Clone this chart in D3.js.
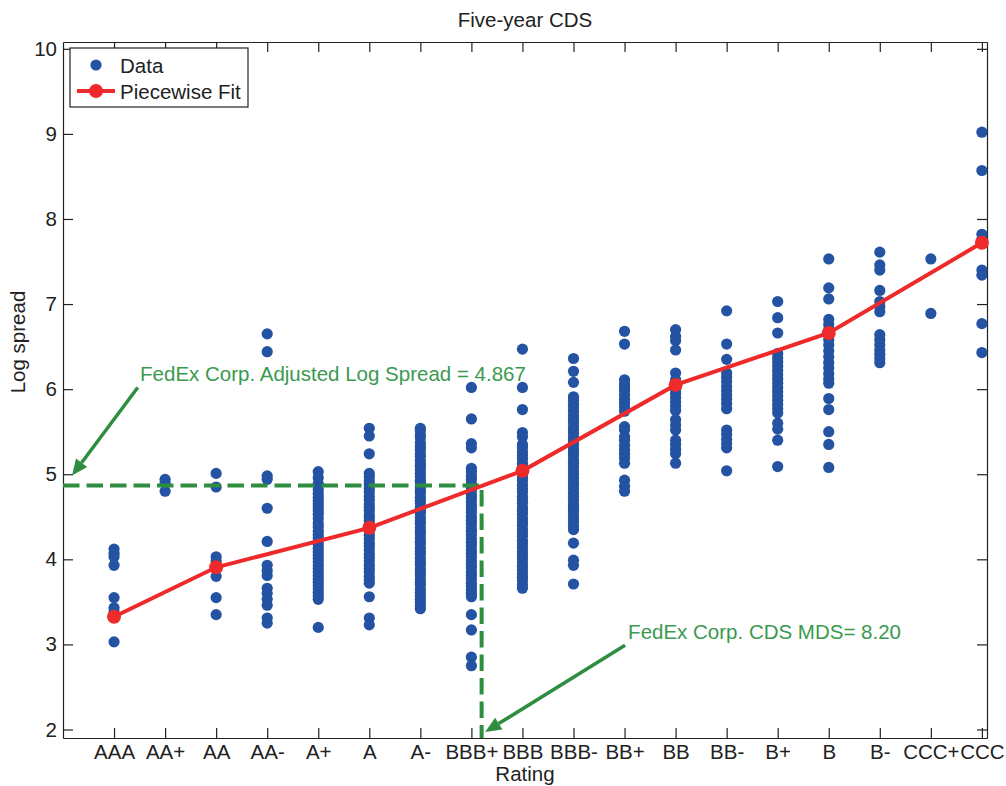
<!DOCTYPE html>
<html>
<head>
<meta charset="utf-8">
<script src="https://cdn.jsdelivr.net/npm/d3@7"></script>
<style>
body { margin: 0; background: #fff; }
svg { font-family: "Liberation Sans", Arial, sans-serif; }
.axis path, .axis line { stroke: #222; stroke-width: 1.2; }
.axis text { fill: #222; font-size: 20.5px; }
</style>
</head>
<body>
<div id="chart"></div>
<script>
// ratings on the x axis (1..18)
const ratings = ["AAA", "AA+", "AA", "AA-", "A+", "A", "A-", "BBB+", "BBB", "BBB-",
    "BB+", "BB", "BB-", "B+", "B", "B-", "CCC+", "CCC"];

// log spreads, one array per rating
const aaa = [4.12, 4.07, 4.03, 3.93, 3.55, 3.43, 3.38, 3.03];
const aaPlus = [4.94, 4.90, 4.80];
const aa = [5.01, 4.85, 4.03, 3.98, 3.90, 3.80, 3.55, 3.35];
const aaMinus = [6.65, 6.44, 4.98, 4.94, 4.60, 4.21, 3.93, 3.87, 3.81, 3.66, 3.60, 3.53, 3.46, 3.31, 3.25];
const aPlus = [5.03, 4.96, 4.89, 4.82, 4.77, 4.73, 4.69, 4.65, 4.61, 4.57, 4.53, 4.48, 4.42, 4.38, 4.33,
    4.29, 4.25, 4.21, 4.17, 4.13, 4.09, 4.05, 4.01, 3.97, 3.93, 3.89, 3.85, 3.81, 3.77, 3.73, 3.69,
    3.65, 3.61, 3.57, 3.53, 3.20];
const aMid = [5.54, 5.45, 5.24, 5.01, 4.97, 4.92, 4.88, 4.83, 4.79, 4.74, 4.70, 4.65, 4.61, 4.57, 4.52,
    4.49, 4.45, 4.41, 4.37, 4.33, 4.28, 4.24, 4.19, 4.15, 4.11, 4.06, 4.02, 3.98, 3.93, 3.89, 3.85,
    3.80, 3.76, 3.72, 3.56, 3.31, 3.23];
const aMinus = [5.54, 5.51, 5.46, 5.43, 5.37, 5.33, 5.29, 5.24, 5.21, 5.16, 5.12, 5.09, 5.05, 5.01, 4.97,
    4.93, 4.90, 4.85, 4.81, 4.78, 4.73, 4.69, 4.66, 4.61, 4.57, 4.54, 4.49, 4.45, 4.42, 4.37, 4.33,
    4.30, 4.25, 4.21, 4.18, 4.13, 4.09, 4.06, 4.01, 3.97, 3.94, 3.89, 3.85, 3.82, 3.77, 3.73, 3.70,
    3.65, 3.61, 3.57, 3.53, 3.49, 3.45, 3.42];
const bbbPlus = [6.02, 5.65, 5.36, 5.31, 5.07, 5.03, 4.98, 4.94, 4.89, 4.85, 4.81, 4.76, 4.72, 4.68, 4.63,
    4.59, 4.55, 4.50, 4.46, 4.42, 4.37, 4.33, 4.29, 4.24, 4.20, 4.16, 4.11, 4.07, 4.03, 3.98, 3.94,
    3.90, 3.85, 3.81, 3.77, 3.72, 3.68, 3.64, 3.60, 3.56, 3.35, 3.17, 2.85, 2.75];
const bbb = [6.47, 6.02, 5.76, 5.49, 5.44, 5.35, 5.31, 5.26, 5.22, 5.18, 5.13, 5.09, 5.05, 5.00, 4.96,
    4.92, 4.87, 4.83, 4.79, 4.74, 4.70, 4.66, 4.61, 4.57, 4.53, 4.48, 4.44, 4.40, 4.35, 4.31, 4.27,
    4.22, 4.18, 4.14, 4.09, 4.05, 4.01, 3.96, 3.92, 3.88, 3.83, 3.79, 3.75, 3.70, 3.66];
const bbbMinus = [6.36, 6.21, 6.08, 5.91, 5.87, 5.82, 5.78, 5.74, 5.69, 5.65, 5.61, 5.56, 5.52, 5.48, 5.43,
    5.39, 5.35, 5.30, 5.26, 5.22, 5.17, 5.13, 5.09, 5.04, 5.00, 4.96, 4.91, 4.87, 4.83, 4.78, 4.74,
    4.70, 4.65, 4.61, 4.57, 4.52, 4.48, 4.44, 4.39, 4.35, 4.19, 3.99, 3.93, 3.71];
const bbPlus = [6.68, 6.53, 6.11, 6.06, 6.02, 5.98, 5.93, 5.88, 5.84, 5.79, 5.74, 5.56, 5.52, 5.44, 5.40,
    5.34, 5.29, 5.24, 5.19, 5.13, 4.93, 4.86, 4.80];
const bb = [6.70, 6.62, 6.57, 6.46, 6.19, 6.11, 6.05, 6.00, 5.95, 5.90, 5.85, 5.80, 5.75, 5.64, 5.58,
    5.52, 5.40, 5.35, 5.29, 5.24, 5.13];
const bbMinus = [6.92, 6.53, 6.35, 6.19, 6.14, 6.09, 6.03, 5.98, 5.93, 5.88, 5.83, 5.77, 5.52, 5.47, 5.41,
    5.36, 5.31, 5.04];
const bPlus = [7.03, 6.84, 6.66, 6.42, 6.37, 6.32, 6.27, 6.22, 6.17, 6.12, 6.07, 6.02, 5.97, 5.92, 5.87,
    5.82, 5.77, 5.72, 5.60, 5.53, 5.40, 5.09];
const bMid = [7.53, 7.19, 7.06, 6.82, 6.76, 6.70, 6.58, 6.52, 6.45, 6.38, 6.31, 6.25, 6.18, 6.12, 6.07,
    5.89, 5.76, 5.50, 5.35, 5.08];
const bMinus = [7.61, 7.46, 7.40, 7.16, 7.03, 6.97, 6.91, 6.64, 6.58, 6.52, 6.46, 6.41, 6.36, 6.31];
const cccPlus = [7.53, 6.89];
const ccc = [9.02, 8.57, 7.82, 7.76, 7.40, 7.34, 6.77, 6.43];

const spreads = [aaa, aaPlus, aa, aaMinus, aPlus, aMid, aMinus, bbbPlus, bbb, bbbMinus,
    bbPlus, bb, bbMinus, bPlus, bMid, bMinus, cccPlus, ccc];

// piecewise fit knots
const fitRatings = [1, 3, 6, 9, 12, 15, 18];
const fitValues = [3.325, 3.906, 4.37, 5.04, 6.05, 6.66, 7.72];

const yTicks = [2, 3, 4, 5, 6, 7, 8, 9, 10];

// FedEx marker
const fedexMds = 8.20;
const fedexSpread = 4.867;

// annotation anchors (data units)
const arrowSpread = {from: [1.464, 6.02], to: [0.177, 4.984]};
const arrowMds = {from: [11.01, 2.99], to: [8.27, 1.97]};
const labelSpread = {pos: [1.51, 6.09], text: "FedEx Corp. Adjusted Log Spread = 4.867"};
const labelMds = {pos: [11.07, 3.06], text: "FedEx Corp. CDS MDS= 8.20"};

var W = 1006, H = 786;
var padL = 63, padR = 987, padT = 42, padB = 738;

var svg = d3.select("#chart")
    .append("svg")
    .attr("width", W)
    .attr("height", H);

var x = d3.scaleLinear().domain([0, 18.1]).range([padL, padR]);
var y = d3.scaleLinear().domain([1.9, 10.08]).range([padB, padT]);

var blue = "#2353a2", red = "#ee2a2a", green = "#2e8d3e", textGreen = "#3a9a50";

// axes (ticks point inward, box all round)
svg.append("g")
    .attr("class", "axis")
    .attr("transform", "translate(0," + padB + ")")
    .call(d3.axisBottom(x)
        .tickValues(d3.range(1, 19))
        .tickFormat(function(d) { return ratings[d - 1]; })
        .tickSizeInner(-10).tickSizeOuter(0).tickPadding(6.5));

svg.append("g")
    .attr("class", "axis")
    .attr("transform", "translate(0," + padT + ")")
    .call(d3.axisTop(x)
        .tickValues(d3.range(1, 19))
        .tickFormat("")
        .tickSizeInner(-10).tickSizeOuter(0));

svg.append("g")
    .attr("class", "axis")
    .attr("transform", "translate(" + padL + ",0)")
    .call(d3.axisLeft(y)
        .tickValues(yTicks)
        .tickFormat(d3.format("d"))
        .tickSizeInner(-10).tickSizeOuter(0).tickPadding(6));

svg.append("g")
    .attr("class", "axis")
    .attr("transform", "translate(" + padR + ",0)")
    .call(d3.axisRight(y)
        .tickValues(yTicks)
        .tickFormat("")
        .tickSizeInner(-10).tickSizeOuter(0));

// titles
svg.append("text")
    .attr("x", (padL + padR) / 2)
    .attr("y", 27)
    .attr("text-anchor", "middle")
    .style("font-size", "20.5px")
    .style("fill", "#222")
    .text("Five-year CDS");

svg.append("text")
    .attr("x", (padL + padR) / 2)
    .attr("y", 781)
    .attr("text-anchor", "middle")
    .style("font-size", "20.5px")
    .style("fill", "#222")
    .text("Rating");

svg.append("text")
    .attr("transform", "translate(25," + ((padT + padB) / 2 - 48) + ") rotate(-90)")
    .attr("text-anchor", "middle")
    .style("font-size", "20.5px")
    .style("fill", "#222")
    .text("Log spread");

// data points
var points = [];
spreads.forEach(function(vals, i) {
    vals.forEach(function(v) { points.push({r: i + 1, v: v}); });
});

svg.append("g")
    .selectAll("circle")
    .data(points)
    .enter().append("circle")
    .attr("cx", d => x(d.r))
    .attr("cy", d => y(d.v))
    .attr("r", 5.6)
    .attr("fill", blue);

// FedEx dashed guide
svg.append("path")
    .datum([[0, fedexSpread], [fedexMds, fedexSpread], [fedexMds, 1.9]])
    .attr("fill", "none")
    .attr("stroke", green)
    .attr("stroke-width", 4)
    .attr("stroke-dasharray", "16.5,7")
    .attr("d", d3.line().x(d => x(d[0])).y(d => y(d[1])));

// piecewise fit
var fit = fitRatings.map((r, i) => [r, fitValues[i]]);
svg.append("path")
    .datum(fit)
    .attr("fill", "none")
    .attr("stroke", red)
    .attr("stroke-width", 4)
    .attr("d", d3.line().x(d => x(d[0])).y(d => y(d[1])));

svg.append("g")
    .selectAll("circle")
    .data(fit)
    .enter().append("circle")
    .attr("cx", d => x(d[0]))
    .attr("cy", d => y(d[1]))
    .attr("r", 7)
    .attr("fill", red);

// arrows
function drawArrow(a) {
    var x1 = x(a.from[0]), y1 = y(a.from[1]);
    var x2 = x(a.to[0]), y2 = y(a.to[1]);
    var ang = Math.atan2(y2 - y1, x2 - x1);
    var len = 16, half = 7;
    var bx = x2 - len * Math.cos(ang), by = y2 - len * Math.sin(ang);
    svg.append("line")
        .attr("x1", x1).attr("y1", y1)
        .attr("x2", bx).attr("y2", by)
        .attr("stroke", green)
        .attr("stroke-width", 3.5);
    var p = [
        [x2, y2],
        [bx + half * Math.sin(ang), by - half * Math.cos(ang)],
        [bx - half * Math.sin(ang), by + half * Math.cos(ang)]
    ];
    svg.append("path")
        .attr("d", "M" + p.join("L") + "Z")
        .attr("fill", green);
}
drawArrow(arrowSpread);
drawArrow(arrowMds);

[labelSpread, labelMds].forEach(function(l) {
    svg.append("text")
        .attr("x", x(l.pos[0]))
        .attr("y", y(l.pos[1]))
        .style("font-size", "20.5px")
        .style("fill", textGreen)
        .text(l.text);
});

// legend
var legend = svg.append("g");
legend.append("rect")
    .attr("x", 70).attr("y", 48)
    .attr("width", 178).attr("height", 59)
    .attr("fill", "#fff")
    .attr("stroke", "#222")
    .attr("stroke-width", 1.2);

legend.append("circle")
    .attr("cx", 96).attr("cy", 65).attr("r", 5.6)
    .attr("fill", blue);
legend.append("line")
    .attr("x1", 77).attr("x2", 115)
    .attr("y1", 91).attr("y2", 91)
    .attr("stroke", red).attr("stroke-width", 4);
legend.append("circle")
    .attr("cx", 96).attr("cy", 91).attr("r", 7)
    .attr("fill", red);

legend.append("text")
    .attr("x", 120).attr("y", 72.5)
    .style("font-size", "20.5px").style("fill", "#222")
    .text("Data");
legend.append("text")
    .attr("x", 120).attr("y", 99)
    .style("font-size", "20.5px").style("fill", "#222")
    .text("Piecewise Fit");
</script>
</body>
</html>
